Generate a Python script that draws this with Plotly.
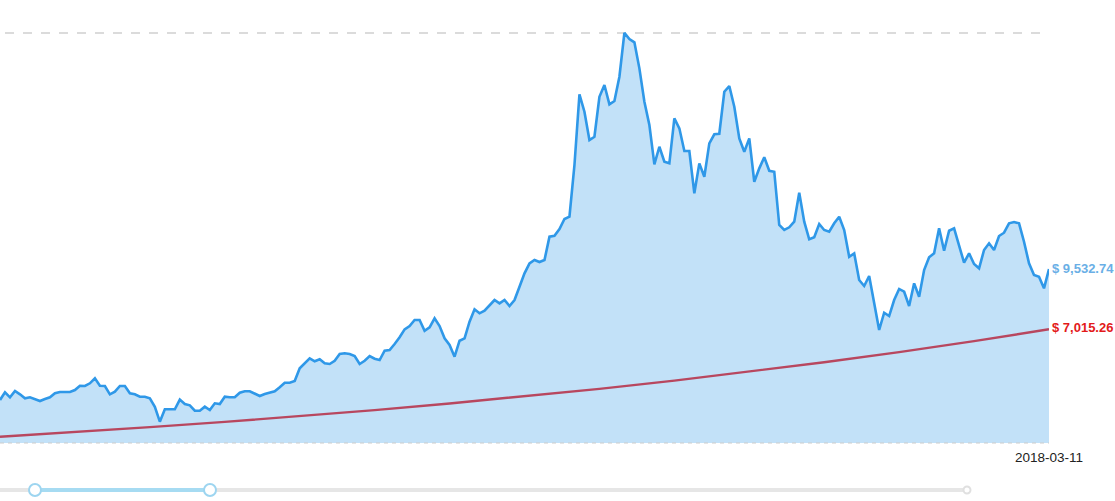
import pandas as pd
import plotly.graph_objects as go

# ---- data ----
start_date = "2017-08-13"
end_date = "2018-03-11"

prices = [
    4063, 4385, 4176, 4439, 4301, 4134, 4176, 4092, 4021, 4105,
    4176, 4343, 4397, 4397, 4397, 4481, 4660, 4648, 4760, 4969,
    4660, 4648, 4301, 4410, 4648, 4648, 4343, 4301, 4201, 4201,
    4134, 3783, 3157, 3675, 3687, 3675, 4080, 3896, 3842, 3616,
    3616, 3783, 3646, 3925, 3896, 4201, 4176, 4176, 4368, 4426,
    4426, 4343, 4230, 4314, 4368, 4426, 4593, 4785, 4785, 4856,
    5387, 5595, 5804, 5679, 5762, 5595, 5566, 5704, 5984, 6013,
    5984, 5900, 5566, 5704, 5900, 5787, 5733, 6121, 6151, 6401,
    6681, 7015, 7153, 7403, 7403, 6956, 7098, 7474, 7153, 6639,
    6359, 5871, 6539, 6639, 7332, 7850, 7683, 7791, 8029, 8238,
    8100, 8238, 7988, 8238, 8793, 9353, 9770, 9908, 9825, 9908,
    10881, 10923, 11202, 11620, 11716, 13874, 16826, 16100, 14918, 15056,
    16726, 17214, 16408, 16546, 17561, 19390, 19135, 18997, 17911, 16517,
    15544, 13903, 14638, 14012, 13945, 15824, 15406, 14459, 14459, 12693,
    13945, 13386, 14780, 15156, 15181, 16935, 17173, 16308, 14989, 14430,
    14989, 13177, 13736, 14196, 13636, 13595, 11369, 11161, 11273, 11507,
    12718, 11507, 10772, 10856, 11411, 11161, 11090, 11440, 11716, 11161,
    10046, 10188, 9073, 8823, 9240, 8100, 6986, 7708, 7570, 8238,
    8700, 8585, 7988, 8935, 8376, 9491, 10021, 10188, 11231, 10296,
    11131, 11231, 10534, 9795, 10188, 9741, 9561, 10326, 10605, 10326,
    10910, 11048, 11440, 11495, 11440, 10672, 9770, 9282, 9211, 8726,
    9532.74,
]

trend_dates = [
    "2017-08-13", "2017-08-28", "2017-09-12", "2017-09-27", "2017-10-12",
    "2017-10-27", "2017-11-11", "2017-11-26", "2017-12-11", "2017-12-26",
    "2018-01-10", "2018-01-25", "2018-02-09", "2018-02-24", "2018-03-11",
]
trend_values = [
    2530, 2720, 2930, 3150, 3390, 3640, 3920, 4210, 4530, 4870,
    5240, 5640, 6060, 6520, 7015.26,
]

price_label = "$ 9,532.74"
trend_label = "$ 7,015.26"
date_label = "2018-03-11"

y_min = 2268
y_top = 19554

dates = pd.date_range(start_date, end_date, freq="D")

# ---- layout geometry (pixels) ----
W, H = 1115, 501
ML, MR, MT, MB = 0, 66, 29, 58
PW = W - ML - MR
PH = H - MT - MB


def px(x):
    return (x - ML) / PW


def py(y):
    return (H - MB - y) / PH


fig = go.Figure()

fig.add_trace(go.Scatter(
    x=dates, y=prices, mode="lines",
    line=dict(color="#2f98e8", width=2.6),
    fill="tozeroy", fillcolor="#c2e1f8",
    hoverinfo="skip", showlegend=False,
))

fig.add_trace(go.Scatter(
    x=pd.to_datetime(trend_dates), y=trend_values, mode="lines",
    line=dict(color="#b8475f", width=2.4),
    hoverinfo="skip", showlegend=False,
))

fig.add_annotation(
    x=dates[-1], y=prices[-1], text="<b>" + price_label + "</b>",
    xanchor="left", yanchor="middle", xshift=1, yshift=1, showarrow=False,
    font=dict(family="Liberation Sans, Arial", size=13, color="#6aafe6"),
)
fig.add_annotation(
    x=dates[-1], y=trend_values[-1], text="<b>" + trend_label + "</b>",
    xanchor="left", yanchor="middle", xshift=1, yshift=2, showarrow=False,
    font=dict(family="Liberation Sans, Arial", size=13, color="#e31a1a"),
)
fig.add_annotation(
    x=dates[-1], y=0, yref="paper", text=date_label,
    xanchor="center", yanchor="middle", yshift=-14, showarrow=False,
    font=dict(family="Liberation Sans, Arial", size=13.5, color="#222222"),
)

shapes = []
# top dashed line at the maximum
shapes.append(dict(type="line", xref="paper", yref="y",
                   x0=px(5), x1=1, y0=max(prices), y1=max(prices), layer="below",
                   line=dict(color="#d0d0d0", width=1.5, dash="9px,9px")))
# bottom dashed baseline
shapes.append(dict(type="line", xref="paper", yref="paper",
                   x0=0, x1=1, y0=0, y1=0, layer="above",
                   line=dict(color="#cccccc", width=1, dash="4px,4px")))
# slider track
shapes.append(dict(type="line", xref="paper", yref="paper",
                   x0=px(0), x1=px(967), y0=py(490), y1=py(490),
                   line=dict(color="#e6e6e6", width=4)))
shapes.append(dict(type="line", xref="paper", yref="paper",
                   x0=px(35), x1=px(210), y0=py(490), y1=py(490),
                   line=dict(color="#a6dbf2", width=4)))
# slider handles
for cx, r, col in [(35, 6, "#9dd5f0"), (210, 6, "#9dd5f0"), (967, 3.5, "#e0e0e0")]:
    shapes.append(dict(type="circle", xref="paper", yref="paper",
                       xsizemode="pixel", ysizemode="pixel",
                       xanchor=px(cx), yanchor=py(490),
                       x0=-r, x1=r, y0=-r, y1=r,
                       fillcolor="white", line=dict(color=col, width=2)))

fig.update_layout(
    width=W, height=H,
    margin=dict(l=ML, r=MR, t=MT, b=MB),
    paper_bgcolor="white", plot_bgcolor="white",
    template="none",
    shapes=shapes,
    hovermode=False,
    xaxis=dict(type="date", range=[dates[0], dates[-1]],
               showgrid=False, zeroline=False, showline=False,
               showticklabels=False, ticks=""),
    yaxis=dict(range=[y_min, y_top], showgrid=False, zeroline=False,
               showline=False, showticklabels=False, ticks=""),
)

fig.write_html(
    "out.html",
    config={"displayModeBar": False, "staticPlot": True},
    post_script="document.body.style.margin='0';document.body.style.overflow='hidden';",
)
